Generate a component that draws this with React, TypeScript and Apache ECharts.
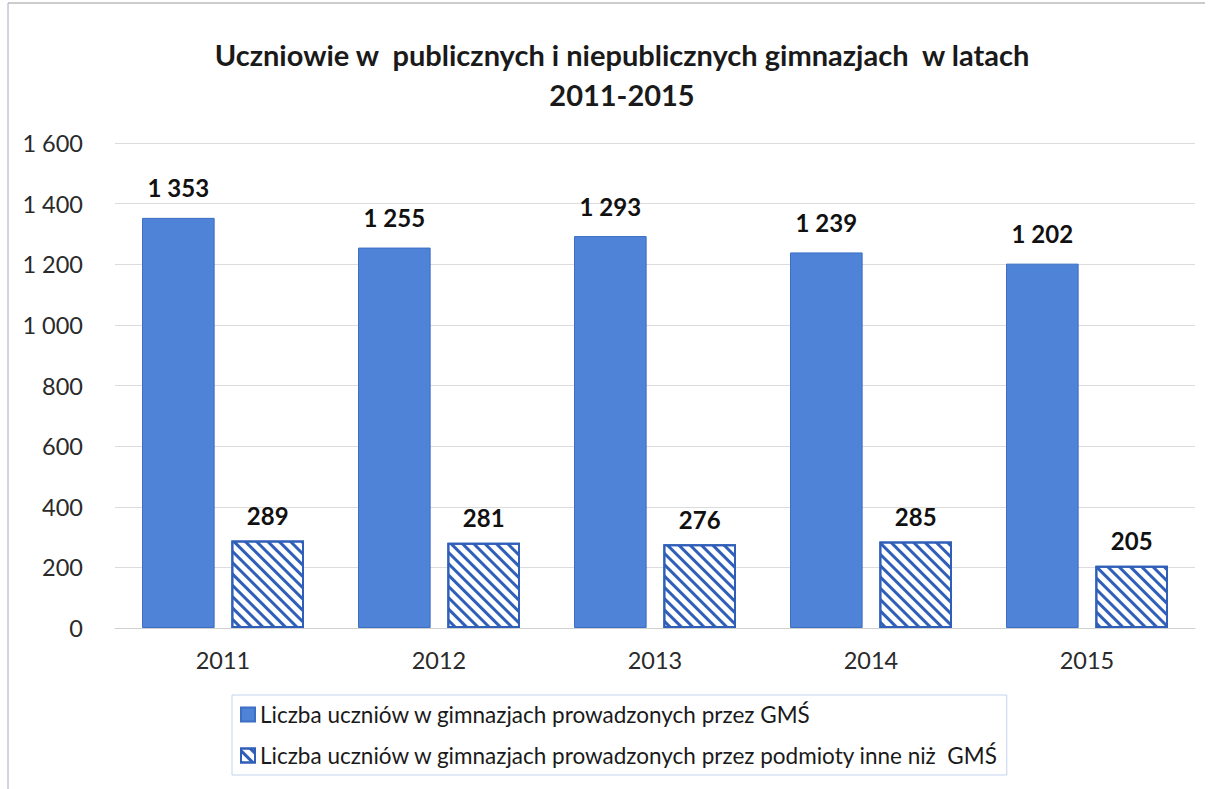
import React, { useEffect, useRef } from "react";
import * as echarts from "echarts";

const years = ["2011", "2012", "2013", "2014", "2015"];
const gmsValues = [1353, 1255, 1293, 1239, 1202];
const otherValues = [289, 281, 276, 285, 205];
const seriesNames = [
  "Liczba uczniów w gimnazjach prowadzonych przez GMŚ",
  "Liczba uczniów w gimnazjach prowadzonych przez podmioty inne niż  GMŚ",
];
const titleText = "Uczniowie w  publicznych i niepublicznych gimnazjach  w latach\n2011-2015";

const fmt = (v: number) => {
  const s = String(Math.round(v));
  return s.replace(/\B(?=(\d{3})+(?!\d))/g, " ");
};

const FONT = "Lato, 'Open Sans', sans-serif";

export default function App() {
  const ref = useRef<HTMLDivElement>(null);
  useEffect(() => {
    if (!ref.current) return;
    const chart = echarts.init(ref.current, undefined, { renderer: "svg" });
    chart.setOption({
      animation: false,
      backgroundColor: "#ffffff",
      textStyle: { fontFamily: FONT },
      title: {
        text: titleText,
        left: 617,
        textAlign: "center",
        top: 29,
        textStyle: {
          fontFamily: FONT,
          fontSize: 29,
          fontWeight: "bold",
          color: "#1a1a1a",
          lineHeight: 40,
        },
      },
      grid: { left: 115, right: 16, top: 143, bottom: 161, containLabel: false },
      xAxis: {
        type: "category",
        data: years,
        axisTick: { show: false },
        axisLine: { lineStyle: { color: "#d0d0d0" } },
        axisLabel: { fontSize: 23.5, color: "#2a2a2a", margin: 20, fontFamily: FONT },
      },
      yAxis: {
        type: "value",
        min: 0,
        max: 1600,
        interval: 200,
        axisLabel: {
          fontSize: 23.5,
          color: "#2a2a2a",
          margin: 32,
          fontFamily: FONT,
          formatter: (v: number) => fmt(v),
        },
        splitLine: { lineStyle: { color: "#dcdcdc" } },
      },
      legend: {
        orient: "vertical",
        left: 232,
        top: 695,
        padding: [8, 8, 8, 8],
        borderColor: "#c5d3ee",
        borderWidth: 1,
        itemGap: 18,
        itemWidth: 14,
        itemHeight: 14,
        icon: "rect",
        textStyle: { fontSize: 22.5, color: "#1a1a1a", fontFamily: FONT },
        data: seriesNames,
      },
      series: [
        {
          name: seriesNames[0],
          type: "bar",
          data: gmsValues,
          barGap: "23%",
          barCategoryGap: "25%",
          itemStyle: { color: "#4f83d8", borderColor: "#3c6fc4", borderWidth: 1 },
          label: {
            show: true,
            position: "top",
            distance: 18,
            fontSize: 24,
            fontWeight: "bold",
            color: "#111",
            fontFamily: FONT,
            formatter: (p: any) => fmt(p.value),
          },
        },
        {
          name: seriesNames[1],
          type: "bar",
          data: otherValues,
          itemStyle: {
            color: "#ffffff",
            borderColor: "#2f5fb8",
            borderWidth: 2,
            decal: {
              symbol: "rect",
              symbolSize: 1,
              dashArrayX: [1, 0],
              dashArrayY: [3, 5],
              rotation: Math.PI / 4,
              color: "#2f5fb8",
              backgroundColor: "#ffffff",
            },
          },
          label: {
            show: true,
            position: "top",
            distance: 13,
            fontSize: 24,
            fontWeight: "bold",
            color: "#111",
            fontFamily: FONT,
            formatter: (p: any) => fmt(p.value),
          },
        },
      ],
      graphic: [
        {
          type: "line",
          shape: { x1: 8, y1: 3, x2: 1205, y2: 3 },
          style: { stroke: "#9a9a9a", lineWidth: 1 },
        },
        {
          type: "line",
          shape: { x1: 8, y1: 3, x2: 8, y2: 789 },
          style: { stroke: "#a8a8c0", lineWidth: 1 },
        },
      ],
    });
    return () => chart.dispose();
  }, []);
  return <div ref={ref} style={{ width: 1211, height: 789, position: "fixed", left: 0, top: 0 }} />;
}
